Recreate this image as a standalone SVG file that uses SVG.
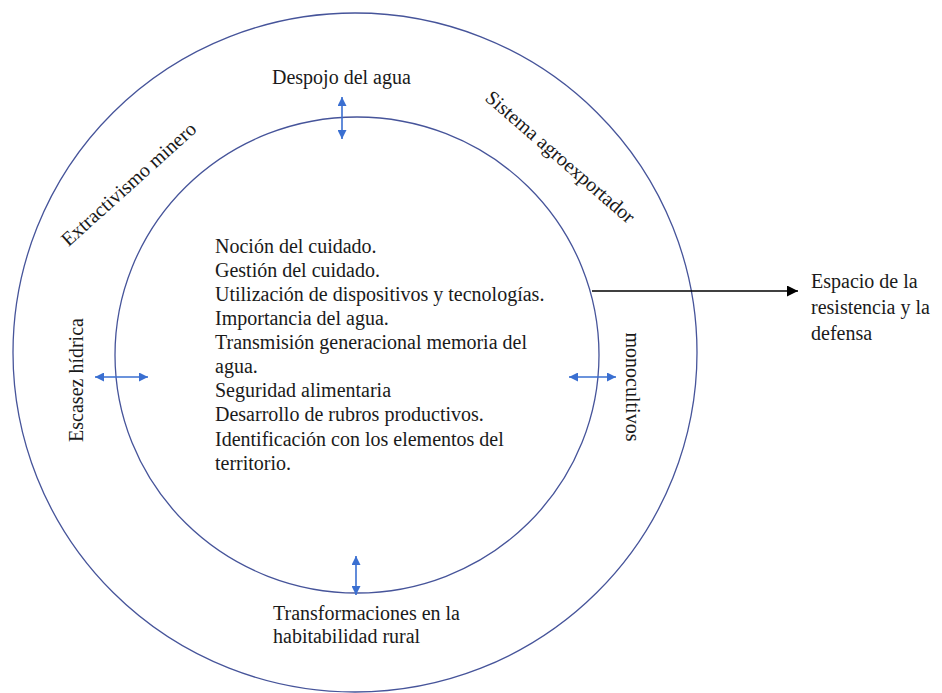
<svg xmlns="http://www.w3.org/2000/svg" width="942" height="693" viewBox="0 0 942 693">
<defs>
<marker id="bh" viewBox="0 0 10 10" refX="10" refY="5" markerWidth="9" markerHeight="9" markerUnits="userSpaceOnUse" orient="auto-start-reverse">
<path d="M0,0 L10,5 L0,10 z" fill="#3a6fd1"/>
</marker>
<marker id="kh" viewBox="0 0 10 10" refX="10" refY="5" markerWidth="11" markerHeight="11" markerUnits="userSpaceOnUse" orient="auto">
<path d="M0,0 L10,5 L0,10 z" fill="#000"/>
</marker>
</defs>
<rect width="942" height="693" fill="#fff"/>
<g fill="none" stroke="#46549a" stroke-width="1.3">
<g id="outer-ring">
<ellipse cx="355" cy="352.5" rx="342" ry="339.5"/>
</g>
<g id="inner-ring">
<ellipse cx="357" cy="355" rx="242" ry="238"/>
</g>
</g>
<g id="center-list">
<text font-family="Times New Roman, Liberation Serif, Tinos, serif" font-size="20" fill="#1a1a1a" x="215">
<tspan x="215" y="253">Noción del cuidado.</tspan>
<tspan x="215" y="277">Gestión del cuidado.</tspan>
<tspan x="215" y="301">Utilización de dispositivos y tecnologías.</tspan>
<tspan x="215" y="325">Importancia del agua.</tspan>
<tspan x="215" y="349">Transmisión generacional memoria del</tspan>
<tspan x="215" y="373">agua.</tspan>
<tspan x="215" y="397">Seguridad alimentaria</tspan>
<tspan x="215" y="421">Desarrollo de rubros productivos.</tspan>
<tspan x="215" y="446">Identificación con los elementos del</tspan>
<tspan x="215" y="470">territorio.</tspan>
</text>
</g>
<g id="despojo">
<text font-family="Times New Roman, Liberation Serif, Tinos, serif" font-size="20" fill="#1a1a1a" x="272" y="84">Despojo del agua</text>
</g>
<g id="transformaciones">
<text font-family="Times New Roman, Liberation Serif, Tinos, serif" font-size="20" fill="#1a1a1a" x="273" y="620">Transformaciones en la</text>
<text font-family="Times New Roman, Liberation Serif, Tinos, serif" font-size="20" fill="#1a1a1a" x="273" y="643">habitabilidad rural</text>
</g>
<g id="escasez">
<text font-family="Times New Roman, Liberation Serif, Tinos, serif" font-size="20" fill="#1a1a1a" text-anchor="middle" transform="translate(83,380) rotate(-90)">Escasez hídrica</text>
</g>
<g id="monocultivos">
<text font-family="Times New Roman, Liberation Serif, Tinos, serif" font-size="20" fill="#1a1a1a" text-anchor="middle" transform="translate(626,387) rotate(90)">monocultivos</text>
</g>
<g id="extractivismo">
<text font-family="Times New Roman, Liberation Serif, Tinos, serif" font-size="20" fill="#1a1a1a" text-anchor="middle" transform="translate(133,189) rotate(-42)">Extractivismo minero</text>
</g>
<g id="agroexportador">
<text font-family="Times New Roman, Liberation Serif, Tinos, serif" font-size="20" fill="#1a1a1a" text-anchor="middle" transform="translate(556,162) rotate(41)">Sistema agroexportador</text>
</g>
<g id="espacio">
<text font-family="Times New Roman, Liberation Serif, Tinos, serif" font-size="20" fill="#1a1a1a" x="811" y="288">Espacio de la</text>
<text font-family="Times New Roman, Liberation Serif, Tinos, serif" font-size="20" fill="#1a1a1a" x="811" y="314">resistencia y la</text>
<text font-family="Times New Roman, Liberation Serif, Tinos, serif" font-size="20" fill="#1a1a1a" x="811" y="340">defensa</text>
</g>
<g id="connectors">
<g stroke="#3a6fd1" stroke-width="1.6" fill="none">
<line x1="342" y1="97" x2="342" y2="139" marker-start="url(#bh)" marker-end="url(#bh)"/>
<line x1="356" y1="556" x2="356" y2="595" marker-start="url(#bh)" marker-end="url(#bh)"/>
<line x1="95" y1="377" x2="148" y2="377" marker-start="url(#bh)" marker-end="url(#bh)"/>
<line x1="569" y1="377" x2="616" y2="377" marker-start="url(#bh)" marker-end="url(#bh)"/>
</g>
<line x1="592" y1="291" x2="798" y2="291" stroke="#000" stroke-width="1.5" marker-end="url(#kh)"/>
</g>
</svg>
